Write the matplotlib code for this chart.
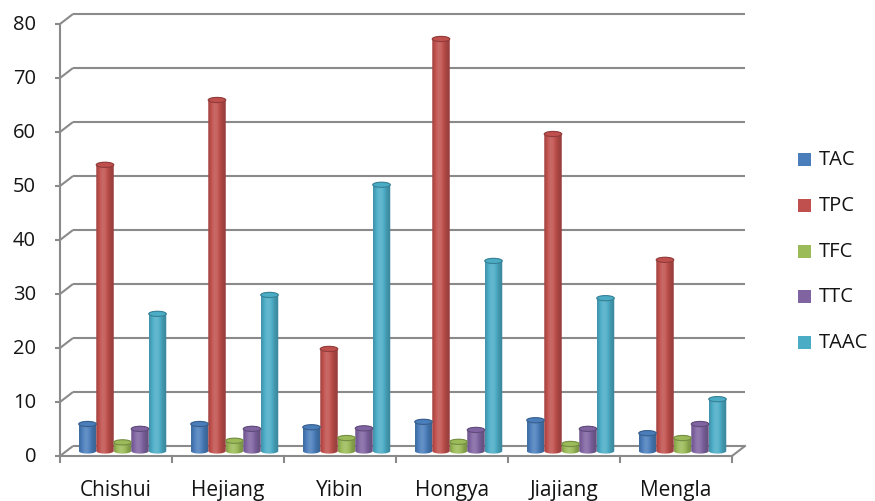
import numpy as np
import matplotlib
matplotlib.use("Agg")
import matplotlib.pyplot as plt
from matplotlib.path import Path
from matplotlib.patches import PathPatch, Ellipse, Rectangle
from matplotlib.colors import to_rgb

sites = ["Chishui", "Hejiang", "Yibin", "Hongya", "Jiajiang", "Mengla"]
series_names = ["TAC", "TPC", "TFC", "TTC", "TAAC"]
TAC = [5.0, 5.0, 4.4, 5.4, 5.7, 3.3]
TPC = [53.0, 65.0, 18.9, 76.3, 58.7, 35.4]
TFC = [1.6, 1.9, 2.4, 1.7, 1.3, 2.4]
TTC = [4.1, 4.1, 4.2, 3.9, 4.1, 5.0]
TAAC = [25.4, 28.9, 49.3, 35.2, 28.3, 9.6]
y_ticks = [0, 10, 20, 30, 40, 50, 60, 70, 80]

series = [TAC, TPC, TFC, TTC, TAAC]
colors = ["#4a7ebb", "#c0504d", "#9bbb59", "#8064a2", "#4bacc6"]

plt.rcParams["font.family"] = ["Open Sans", "DejaVu Sans"]
TXT = "#141414"
GRID = "#8a8a8a"

W, H = 875, 502
fig = plt.figure(figsize=(W / 100, H / 100), dpi=100)
ax = fig.add_axes([0, 0, 1, 1])
ax.set_axis_off()

# pixel geometry of the 3-D box: one category = 112 px, one unit = 5.4 px
px_x, px_y = 112.0, 5.4
x0_px, y0_px = 60.0, 457.0
xlim = (-x0_px / px_x, (W - x0_px) / px_x)
ylim = (-(H - y0_px) / px_y, y0_px / px_y)

dx = 13 / px_x          # depth offset, horizontal
dy = 10 / px_y          # depth offset, vertical
n = len(sites)
ymax = y_ticks[-1]

# back wall gridlines with diagonal connectors to the front axis
for v in y_ticks:
    ax.plot([0, dx], [v, v + dy], color=GRID, lw=1.5, solid_capstyle="butt")
    ax.plot([dx, n + dx], [v + dy, v + dy], color=GRID, lw=1.5,
            solid_capstyle="butt")
    ax.plot([-5 / px_x, 0], [v, v], color=GRID, lw=1.5, solid_capstyle="butt")
    ax.text(-24 / px_x, v, str(v), ha="right", va="center", fontsize=14.5,
            color=TXT)

# front value axis
ax.plot([0, 0], [0, ymax], color=GRID, lw=1.5)
# floor front edge and right edge
ax.plot([0, n], [0, 0], color=GRID, lw=1.5)
ax.plot([n, n + dx], [0, dy], color=GRID, lw=1.5)
for i in range(n + 1):
    ax.plot([i, i], [0, -6 / px_y], color=GRID, lw=1.5)
for i, s in enumerate(sites):
    ax.text(i + 0.5, -34 / px_y, s, ha="center", va="center", fontsize=15,
            color=TXT)


def shade(rgb, f):
    rgb = np.asarray(rgb)
    if f >= 1:
        return rgb + (1 - rgb) * (f - 1)
    return rgb * f


def cylinder(xc, val, color, w, ry):
    base = dy / 2
    top = base + val
    xl, xr = xc - w / 2, xc + w / 2
    t = np.linspace(np.pi, 2 * np.pi, 40)
    bottom = np.column_stack([xc + w / 2 * np.cos(t), base + ry * np.sin(t)])
    t2 = np.linspace(0, np.pi, 40)
    upper = np.column_stack([xc + w / 2 * np.cos(t2), top + ry * np.sin(t2)])
    verts = np.vstack([[xl, top], bottom, [xr, top], upper, [xl, top]])
    clip = PathPatch(Path(verts), facecolor="none", edgecolor="none")
    ax.add_patch(clip)
    rgb = to_rgb(color)
    u = np.linspace(0, 1, 64)
    prof = 0.78 + 0.36 * np.exp(-((u - 0.4) / 0.32) ** 2)
    grad = np.array([[shade(rgb, f) for f in prof]])
    im = ax.imshow(np.clip(grad, 0, 1), extent=[xl, xr, base - ry, top + ry],
                   aspect="auto", interpolation="bilinear", zorder=2)
    im.set_clip_path(clip)
    cap = Ellipse((xc, top), w, 2 * ry, facecolor=shade(rgb, 1.0),
                  edgecolor=shade(rgb, 0.75), lw=0.8, zorder=3)
    ax.add_patch(cap)


bar_w = 17.5 / px_x
ry = 2.6 / px_y
k = len(series)
for j, (vals, c) in enumerate(zip(series, colors)):
    for i, v in enumerate(vals):
        xc = i + 0.5 + dx / 2 + (j - (k - 1) / 2) * bar_w
        cylinder(xc, v, c, bar_w, ry)

# legend
to_px = lambda xp, yp: ((xp - x0_px) / px_x, (y0_px - yp) / px_y)
leg_y = [160, 206, 252, 297, 343]
for name, c, yp in zip(series_names, colors, leg_y):
    xa, ya = to_px(798, yp + 6.5)
    ax.add_patch(Rectangle((xa, ya), 13 / px_x, 13 / px_y, facecolor=c,
                           edgecolor="none"))
    xt, yt = to_px(819, yp)
    ax.text(xt, yt, name, ha="left", va="center", fontsize=14.5, color=TXT)

ax.set_xlim(*xlim)
ax.set_ylim(*ylim)
fig.savefig("out.png", dpi=100, facecolor="white")
